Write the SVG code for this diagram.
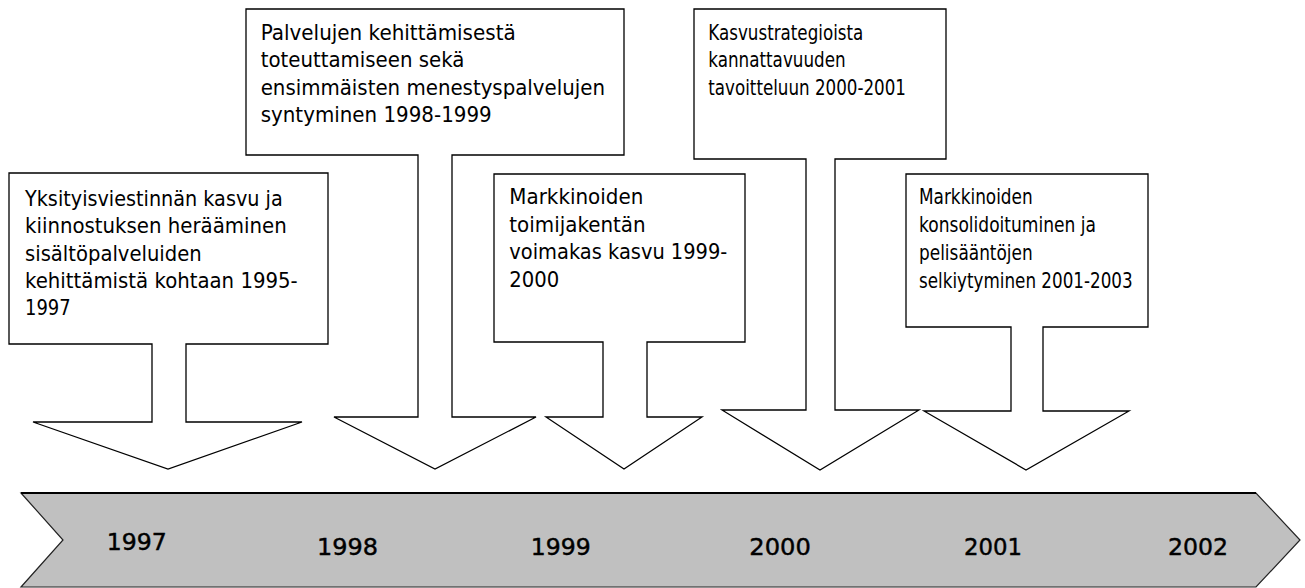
<svg xmlns="http://www.w3.org/2000/svg" width="1305" height="588" viewBox="0 0 1305 588">
<style>
.callout{fill:#fff;stroke:#000;stroke-width:1.3;stroke-linejoin:miter}
.t{font-family:"DejaVu Sans","Liberation Sans",sans-serif;font-size:21px;fill:#000}
.tc{font-family:"DejaVu Sans","Liberation Sans",sans-serif;font-size:21px;fill:#000}
.yr{font-family:"DejaVu Sans","Liberation Sans",sans-serif;font-size:23.6px;fill:#000;stroke:#000;stroke-width:0.45}
.band{fill:#c0c0c0;stroke:#222;stroke-width:1.2}
</style>
<rect width="1305" height="588" fill="#fff"/>
<g id="timeline">
<polygon class="band" points="21,493 1256,493 1300,540 1256,587 21,587 63,540"/>
<line x1="21" y1="493" x2="1256" y2="493" stroke="#000" stroke-width="2"/>
<text class="yr" x="106.7" y="550" textLength="60" lengthAdjust="spacingAndGlyphs">1997</text>
<text class="yr" x="317" y="555" textLength="61" lengthAdjust="spacingAndGlyphs">1998</text>
<text class="yr" x="530.7" y="555" textLength="60" lengthAdjust="spacingAndGlyphs">1999</text>
<text class="yr" x="749.3" y="555" textLength="61.5" lengthAdjust="spacingAndGlyphs">2000</text>
<text class="yr" x="964" y="555" textLength="58" lengthAdjust="spacingAndGlyphs">2001</text>
<text class="yr" x="1168" y="555" textLength="60" lengthAdjust="spacingAndGlyphs">2002</text>
</g>
<g id="connectors"></g>
<g id="event1995">
<polygon class="callout" points="9,173 328,173 328,344 186,344 186,422 302,422 168,469 33,422 152,422 152,344 9,344"/>
<text class="t" x="25" y="206" textLength="257.7" lengthAdjust="spacingAndGlyphs">Yksityisviestinnän kasvu ja</text>
<text class="t" x="25" y="233.3" textLength="261.7" lengthAdjust="spacingAndGlyphs">kiinnostuksen herääminen</text>
<text class="t" x="25" y="260.6" textLength="176.7" lengthAdjust="spacingAndGlyphs">sisältöpalveluiden</text>
<text class="t" x="25" y="288" textLength="272.7" lengthAdjust="spacingAndGlyphs">kehittämistä kohtaan 1995-</text>
<text class="t" x="25" y="315.3" textLength="45.7" lengthAdjust="spacingAndGlyphs">1997</text>
</g>
<g id="event1998">
<polygon class="callout" points="246,9 624,9 624,155 452,155 452,417 536,417 435,469 334,417 418,417 418,155 246,155"/>
<text class="t" x="260.7" y="39.5" textLength="255" lengthAdjust="spacingAndGlyphs">Palvelujen kehittämisestä</text>
<text class="t" x="260.7" y="67" textLength="203.7" lengthAdjust="spacingAndGlyphs">toteuttamiseen sekä</text>
<text class="t" x="260.7" y="94.5" textLength="344.3" lengthAdjust="spacingAndGlyphs">ensimmäisten menestyspalvelujen</text>
<text class="t" x="260.7" y="122" textLength="231" lengthAdjust="spacingAndGlyphs">syntyminen 1998-1999</text>
</g>
<g id="event1999">
<polygon class="callout" points="494,174 745,174 745,342 647,342 647,417 702,417 624,469 546,417 603,417 603,342 494,342"/>
<text class="t" x="509.3" y="204.3" textLength="134" lengthAdjust="spacingAndGlyphs">Markkinoiden</text>
<text class="t" x="509.3" y="231.7" textLength="136.3" lengthAdjust="spacingAndGlyphs">toimijakentän</text>
<text class="t" x="509.3" y="259.3" textLength="218" lengthAdjust="spacingAndGlyphs">voimakas kasvu 1999-</text>
<text class="t" x="509.3" y="286.7" textLength="50" lengthAdjust="spacingAndGlyphs">2000</text>
</g>
<g id="event2000">
<polygon class="callout" points="694,9 946,9 946,159 835,159 835,410 919,410 820,470 722,410 806,410 806,159 694,159"/>
<text class="tc" x="708.3" y="39.5" textLength="155" lengthAdjust="spacingAndGlyphs">Kasvustrategioista</text>
<text class="tc" x="708.3" y="67" textLength="137.3" lengthAdjust="spacingAndGlyphs">kannattavuuden</text>
<text class="tc" x="708.3" y="94.5" textLength="197.7" lengthAdjust="spacingAndGlyphs">tavoitteluun 2000-2001</text>
</g>
<g id="event2001">
<polygon class="callout" points="906,174 1148,174 1148,327 1043,327 1043,411 1129,411 1026,470 924,411 1011,411 1011,327 906,327"/>
<text class="tc" x="919" y="204.3" textLength="113.7" lengthAdjust="spacingAndGlyphs">Markkinoiden</text>
<text class="tc" x="919" y="232.3" textLength="177" lengthAdjust="spacingAndGlyphs">konsolidoituminen ja</text>
<text class="tc" x="919" y="260" textLength="113.7" lengthAdjust="spacingAndGlyphs">pelisääntöjen</text>
<text class="tc" x="919" y="287.7" textLength="213.7" lengthAdjust="spacingAndGlyphs">selkiytyminen 2001-2003</text>
</g>
</svg>
